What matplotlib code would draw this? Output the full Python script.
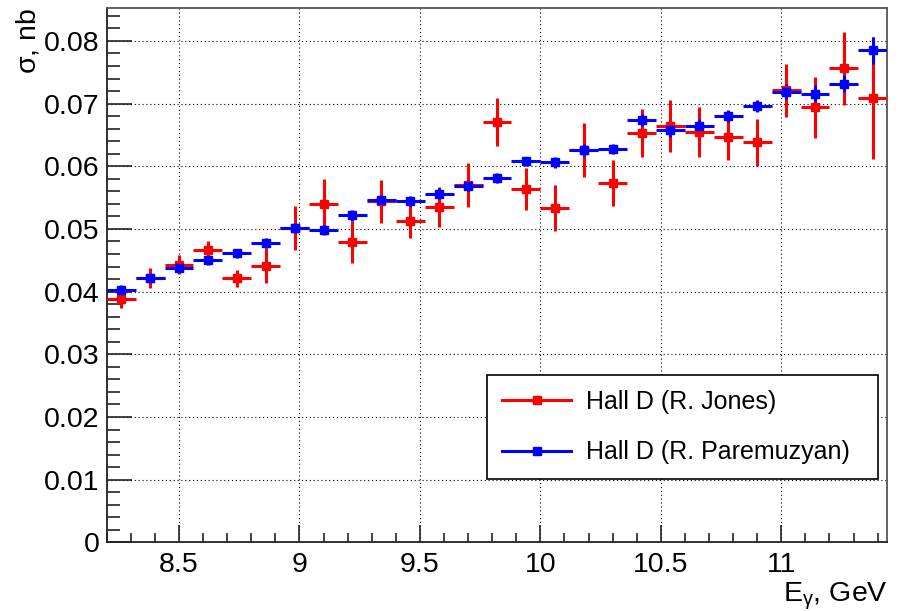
import matplotlib
matplotlib.use("Agg")
import matplotlib.pyplot as plt
from matplotlib.lines import Line2D

plt.rcParams['font.family'] = ['Liberation Sans', 'DejaVu Sans']
plt.rcParams['mathtext.default'] = 'regular'

# Photon energy bin centres (GeV) and half bin width
energy = [8.26, 8.38, 8.50, 8.62, 8.74, 8.86, 8.98, 9.10, 9.22, 9.34,
          9.46, 9.58, 9.70, 9.82, 9.94, 10.06, 10.18, 10.30, 10.42, 10.54,
          10.66, 10.78, 10.90, 11.02, 11.14, 11.26, 11.38]
energy_halfwidth = [0.06] * len(energy)

# Hall D (R. Jones)
jones_sigma = [0.0388, 0.0421, 0.0443, 0.0467, 0.0421, 0.0441, 0.0501, 0.0540, 0.0479, 0.0544,
               0.0512, 0.0535, 0.0570, 0.0671, 0.0564, 0.0533, 0.0626, 0.0573, 0.0653, 0.0664,
               0.0654, 0.0647, 0.0638, 0.0721, 0.0694, 0.0756, 0.0709]
jones_err = [0.0014, 0.0016, 0.0015, 0.0014, 0.0014, 0.0028, 0.0035, 0.0040, 0.0033, 0.0034,
             0.0027, 0.0032, 0.0035, 0.0038, 0.0033, 0.0037, 0.0043, 0.0037, 0.0038, 0.0042,
             0.0040, 0.0037, 0.0037, 0.0042, 0.0049, 0.0059, 0.0097]

# Hall D (R. Paremuzyan)
paremuzyan_sigma = [0.0402, 0.0421, 0.0438, 0.0450, 0.0461, 0.0477, 0.0501, 0.0498, 0.0522, 0.0546,
                    0.0544, 0.0556, 0.0569, 0.0582, 0.0608, 0.0606, 0.0626, 0.0627, 0.0674, 0.0658,
                    0.0664, 0.0680, 0.0696, 0.0719, 0.0716, 0.0732, 0.0785]
paremuzyan_err = [0.0008, 0.0007, 0.0008, 0.0007, 0.0007, 0.0008, 0.0008, 0.0008, 0.0009, 0.0008,
                  0.0008, 0.0009, 0.0009, 0.0008, 0.0007, 0.0008, 0.0010, 0.0008, 0.0010, 0.0011,
                  0.0012, 0.0009, 0.0010, 0.0012, 0.0013, 0.0013, 0.0022]

labels = ['Hall D (R. Jones)', 'Hall D (R. Paremuzyan)']
colors = ['#ff0000', '#0000ff']

fig = plt.figure(figsize=(9.03, 6.11), dpi=100)
ax = fig.add_axes([0.1182, 0.1124, 0.8644, 0.8740])

for sig, err, col in [(jones_sigma, jones_err, colors[0]),
                      (paremuzyan_sigma, paremuzyan_err, colors[1])]:
    ax.errorbar(energy, sig, xerr=energy_halfwidth, yerr=err, fmt='s', color=col,
                ecolor=col, elinewidth=2.2, markersize=5.4, capsize=0, zorder=3)

ax.set_xlim(8.2, 11.44)
ax.set_ylim(0, 0.0852)

ax.xaxis.set_major_locator(matplotlib.ticker.MultipleLocator(0.5))
ax.xaxis.set_minor_locator(matplotlib.ticker.MultipleLocator(0.1))
ax.yaxis.set_major_locator(matplotlib.ticker.MultipleLocator(0.01))
ax.yaxis.set_minor_locator(matplotlib.ticker.MultipleLocator(0.002))
ax.xaxis.set_major_formatter(matplotlib.ticker.FuncFormatter(lambda v, p: f"{v:g}"))
ax.yaxis.set_major_formatter(matplotlib.ticker.FuncFormatter(lambda v, p: "0" if abs(v) < 1e-9 else f"{v:.2f}"))

ax.grid(True, which='major', color='black', linestyle=(0, (1, 2.5)), linewidth=0.8)
ax.set_axisbelow(True)

ax.tick_params(axis='both', which='both', direction='in', top=False, right=False,
               labelsize=20.5, colors='#222222', width=1.2)
ax.tick_params(axis='y', which='major', length=18, pad=5)
ax.tick_params(axis='y', which='minor', length=9.5)
ax.tick_params(axis='x', which='major', length=12.5, pad=7)
ax.tick_params(axis='x', which='minor', length=6.5)
for lab in ax.get_xticklabels() + ax.get_yticklabels():
    lab.set_color('black')

for s in ['left', 'bottom']:
    ax.spines[s].set_linewidth(1.3)
    ax.spines[s].set_color('#222222')
for s in ['top', 'right']:
    ax.spines[s].set_linewidth(1.3)
    ax.spines[s].set_color('#555555')

ax.set_xlabel(r'E$_{\gamma}$, GeV', fontsize=20.5, loc='right', labelpad=2)
ax.set_ylabel(r'$\sigma$, nb', fontsize=20.5, loc='top', labelpad=2)

handles = [Line2D([0], [0], color=c, marker='s', markersize=5.4, linewidth=2.2) for c in colors]
leg = ax.legend(handles, labels, loc='upper left', bbox_to_anchor=(0.4876, 0.1167, 0.5001, 0.1966),
                mode='expand', fontsize=18, frameon=True, fancybox=False, framealpha=1,
                edgecolor='black', handlelength=2.75, handletextpad=0.6,
                borderpad=0.6, labelspacing=1.05, borderaxespad=0)
leg.get_frame().set_linewidth(1.2)

fig.savefig('out.png', dpi=100)
